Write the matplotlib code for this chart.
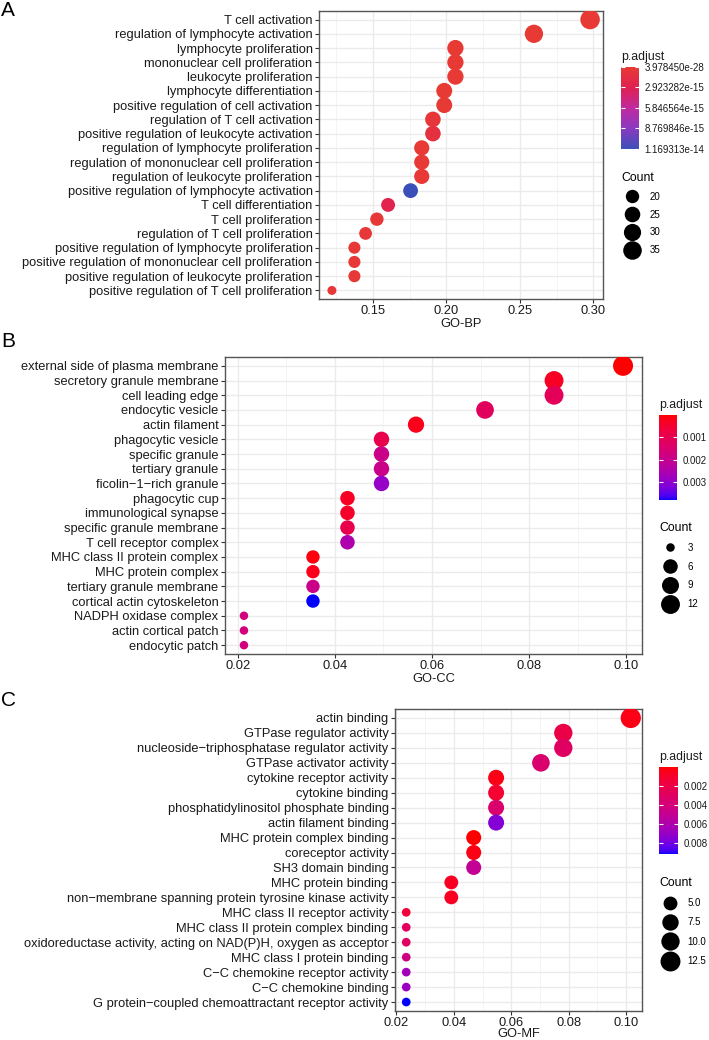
import numpy as np
import matplotlib
matplotlib.use("Agg")
import matplotlib.pyplot as plt
from matplotlib.colors import ListedColormap, LinearSegmentedColormap, Normalize, to_rgb
from matplotlib.cm import ScalarMappable
from matplotlib.lines import Line2D
from matplotlib.ticker import MultipleLocator, AutoMinorLocator, FormatStrFormatter

plt.rcParams['font.family'] = ['Liberation Sans', 'DejaVu Sans']

# ---------------- data ----------------
bp_terms = [
    "T cell activation", "regulation of lymphocyte activation", "lymphocyte proliferation",
    "mononuclear cell proliferation", "leukocyte proliferation", "lymphocyte differentiation",
    "positive regulation of cell activation", "regulation of T cell activation",
    "positive regulation of leukocyte activation", "regulation of lymphocyte proliferation",
    "regulation of mononuclear cell proliferation", "regulation of leukocyte proliferation",
    "positive regulation of lymphocyte activation", "T cell differentiation", "T cell proliferation",
    "regulation of T cell proliferation", "positive regulation of lymphocyte proliferation",
    "positive regulation of mononuclear cell proliferation",
    "positive regulation of leukocyte proliferation", "positive regulation of T cell proliferation",
]
bp_ratio = [0.2977, 0.2595, 0.2061, 0.2061, 0.2061, 0.1985, 0.1985, 0.1908, 0.1908, 0.1832,
            0.1832, 0.1832, 0.1756, 0.1603, 0.1527, 0.1450, 0.1374, 0.1374, 0.1374, 0.1221]
bp_count = [39, 34, 27, 27, 27, 26, 26, 25, 25, 24, 24, 24, 23, 21, 20, 19, 18, 18, 18, 16]
bp_padj = [3.978450e-28, 1e-22, 5e-19, 6e-19, 8e-19, 2e-17, 3e-17, 5e-16, 1.1e-15, 1e-16,
           1.2e-16, 1.5e-16, 1.169313e-14, 2.6e-15, 3e-16, 3.5e-16, 2e-16, 2.5e-16, 3e-16, 2e-16]
bp_cbar_ticks = [3.978450e-28, 2.923282e-15, 5.846564e-15, 8.769846e-15, 1.169313e-14]
bp_count_breaks = [20, 25, 30, 35]

cc_terms = [
    "external side of plasma membrane", "secretory granule membrane", "cell leading edge",
    "endocytic vesicle", "actin filament", "phagocytic vesicle", "specific granule",
    "tertiary granule", "ficolin\u22121\u2212rich granule", "phagocytic cup",
    "immunological synapse", "specific granule membrane", "T cell receptor complex",
    "MHC class II protein complex", "MHC protein complex", "tertiary granule membrane",
    "cortical actin cytoskeleton", "NADPH oxidase complex", "actin cortical patch",
    "endocytic patch",
]
cc_ratio = [0.0993, 0.0851, 0.0851, 0.0709, 0.0567, 0.0496, 0.0496, 0.0496, 0.0496, 0.0426,
            0.0426, 0.0426, 0.0426, 0.0355, 0.0355, 0.0355, 0.0355, 0.0213, 0.0213, 0.0213]
cc_count = [14, 12, 12, 10, 8, 7, 7, 7, 7, 6, 6, 6, 6, 5, 5, 5, 5, 3, 3, 3]
cc_padj = [0.000002, 0.0003, 0.0011, 0.0012, 0.0002, 0.0009, 0.0019, 0.0019, 0.0029, 0.0003,
           0.0004, 0.0009, 0.0025, 0.0001, 0.0002, 0.0019, 0.0038, 0.0017, 0.0017, 0.0017]
cc_cbar_ticks = [0.001, 0.002, 0.003]
cc_count_breaks = [3, 6, 9, 12]

mf_terms = [
    "actin binding", "GTPase regulator activity", "nucleoside\u2212triphosphatase regulator activity",
    "GTPase activator activity", "cytokine receptor activity", "cytokine binding",
    "phosphatidylinositol phosphate binding", "actin filament binding",
    "MHC protein complex binding", "coreceptor activity", "SH3 domain binding",
    "MHC protein binding", "non\u2212membrane spanning protein tyrosine kinase activity",
    "MHC class II receptor activity", "MHC class II protein complex binding",
    "oxidoreductase activity, acting on NAD(P)H, oxygen as acceptor",
    "MHC class I protein binding", "C\u2212C chemokine receptor activity",
    "C\u2212C chemokine binding", "G protein\u2212coupled chemoattractant receptor activity",
]
mf_ratio = [0.1016, 0.0781, 0.0781, 0.0703, 0.0547, 0.0547, 0.0547, 0.0547, 0.0469, 0.0469,
            0.0469, 0.0391, 0.0391, 0.0234, 0.0234, 0.0234, 0.0234, 0.0234, 0.0234, 0.0234]
mf_count = [13, 10, 10, 9, 7, 7, 7, 7, 6, 6, 6, 5, 5, 3, 3, 3, 3, 3, 3, 3]
mf_padj = [0.0004, 0.0020, 0.0030, 0.0035, 0.0004, 0.0012, 0.0035, 0.0075, 0.00002, 0.0004,
           0.0050, 0.0007, 0.0007, 0.0015, 0.0028, 0.0030, 0.0042, 0.0065, 0.0068, 0.0091]
mf_cbar_ticks = [0.002, 0.004, 0.006, 0.008]
mf_count_breaks = [5.0, 7.5, 10.0, 12.5]

# ---------------- helpers ----------------
W, H = 709, 1040
fig = plt.figure(figsize=(W / 100, H / 100), dpi=100)


def rect(l, t, r, b):
    return [l / W, 1 - b / H, (r - l) / W, (b - t) / H]


M = np.array([[0.4124564, 0.3575761, 0.1804375],
              [0.2126729, 0.7151522, 0.0721750],
              [0.0193339, 0.1191920, 0.9503041]])
Minv = np.linalg.inv(M)
WHITE = np.array([0.95047, 1.0, 1.08883])


def _lin(c):
    c = np.asarray(c, float)
    return np.where(c <= 0.04045, c / 12.92, ((c + 0.055) / 1.055) ** 2.4)


def _gam(c):
    c = np.clip(c, 0, None)
    return np.where(c <= 0.0031308, 12.92 * c, 1.055 * np.power(c, 1 / 2.4) - 0.055)


def _f(t):
    d = 6 / 29
    return np.where(t > d ** 3, np.cbrt(t), t / (3 * d * d) + 4 / 29)


def _finv(t):
    d = 6 / 29
    return np.where(t > d, t ** 3, 3 * d * d * (t - 4 / 29))


def rgb2lab(rgb):
    xyz = M @ _lin(rgb)
    fx, fy, fz = _f(xyz / WHITE)
    return np.array([116 * fy - 16, 500 * (fx - fy), 200 * (fy - fz)])


def lab2rgb(lab):
    L, a, b = lab
    fy = (L + 16) / 116
    fx = fy + a / 500
    fz = fy - b / 200
    xyz = WHITE * _finv(np.array([fx, fy, fz]))
    return np.clip(_gam(Minv @ xyz), 0, 1)


def lab_cmap(lo, hi, n=256):
    l0, l1 = rgb2lab(to_rgb(lo)), rgb2lab(to_rgb(hi))
    return ListedColormap([lab2rgb(l0 + (l1 - l0) * t) for t in np.linspace(0, 1, n)])


PX2PT = 72 / 100


def size_fn(counts, a, b):
    cmin, cmax = min(counts), max(counts)
    def d(c):
        r = np.clip((np.asarray(c, float) - cmin) / (cmax - cmin), 0, 1)
        return a + b * np.sqrt(r)
    return d


def panel(terms, ratio, counts, padj, xlabel, major, cmap, sa, sb,
          ax_box, cbar_box, cbar_ticks, cbar_labels, count_breaks, count_labels,
          title_pos, count_pos, letter, letter_y, lblspace, xlpad):
    ax = fig.add_axes(rect(*ax_box))
    dfun = size_fn(counts, sa, sb)
    norm = Normalize(vmin=min(padj), vmax=max(padj))
    sizes = (dfun(counts) * PX2PT) ** 2
    ax.set_axisbelow(True)
    ax.scatter(ratio, terms, s=sizes, c=padj, cmap=cmap, norm=norm, linewidths=0, zorder=3)
    n = len(terms)
    ax.set_ylim(n - 1 + 0.6, -0.6)
    rng = max(ratio) - min(ratio)
    ax.set_xlim(min(ratio) - 0.05 * rng, max(ratio) + 0.05 * rng)
    ax.xaxis.set_major_locator(MultipleLocator(major))
    ax.xaxis.set_minor_locator(AutoMinorLocator(2))
    ax.xaxis.set_major_formatter(FormatStrFormatter('%.2f'))
    ax.grid(True, which='major', axis='both', color='#EBEBEB', lw=1.0, zorder=0)
    ax.grid(True, which='minor', axis='x', color='#F2F2F2', lw=0.6, zorder=0)
    ax.tick_params(axis='both', which='major', length=2.6, width=0.8, color='#333333',
                   labelsize=9.3, labelcolor='#1A1A1A', pad=2.0)
    ax.tick_params(axis='both', which='minor', length=0)
    for sp in ax.spines.values():
        sp.set_color('#555555')
        sp.set_linewidth(1.0)
    ax.set_xlabel(xlabel, fontsize=9.3, color='#1A1A1A', labelpad=xlpad)

    # colour bar
    cax = fig.add_axes(rect(*cbar_box))
    cb = fig.colorbar(ScalarMappable(norm=norm, cmap=cmap), cax=cax)
    cb.outline.set_visible(False)
    cax.invert_yaxis()
    cax.set_yticks(cbar_ticks)
    cax.set_yticklabels(cbar_labels)
    cax.yaxis.set_ticks_position('both')
    cax.tick_params(axis='y', direction='in', color='white', length=3, width=0.8,
                    labelsize=7, labelcolor='#1A1A1A', pad=4, labelright=True, labelleft=False)
    fig.text(title_pos[0] / W, 1 - title_pos[1] / H, 'p.adjust', fontsize=8.8,
             ha='left', va='center', color='#1A1A1A')

    # count legend
    handles = [Line2D([], [], marker='o', linestyle='', color='black',
                      markersize=float(dfun(c)) * PX2PT, markeredgewidth=0)
               for c in count_breaks]
    fig.legend(handles, count_labels, title='Count', loc='upper left',
               bbox_to_anchor=(count_pos[0] / W, 1 - count_pos[1] / H),
               frameon=False, fontsize=7, title_fontsize=8.8, alignment='left',
               handlelength=2.2, handletextpad=0.75, labelspacing=lblspace,
               borderpad=0, borderaxespad=0)
    fig.text(1 / W, 1 - letter_y / H, letter, fontsize=15, ha='left', va='center',
             color='black')
    return ax


cm_a = LinearSegmentedColormap.from_list(
    'bp', ['#E83A35', '#E02050', '#C02AA0', '#8A3AC0', '#3A50B8'])
cm_bc = lab_cmap('#FF0000', '#0000FF')

panel(bp_terms, bp_ratio, bp_count, bp_padj, 'GO-BP', 0.05, cm_a, 9.0, 10.5,
      (319, 11, 603, 299), (621, 67, 639, 149), bp_cbar_ticks,
      ['%.6e' % v for v in bp_cbar_ticks], bp_count_breaks, [str(v) for v in bp_count_breaks],
      (621, 57), (621, 172), 'A', 10, 0.8, 0.6)

panel(cc_terms, cc_ratio, cc_count, cc_padj, 'GO-CC', 0.02, cm_bc, 8.5, 11.5,
      (225, 357, 642, 654), (659, 415, 677, 500), cc_cbar_ticks,
      ['%.3f' % v for v in cc_cbar_ticks], cc_count_breaks, [str(v) for v in cc_count_breaks],
      (659, 405), (659, 522), 'B', 342, 0.9, 0.6)

panel(mf_terms, mf_ratio, mf_count, mf_padj, 'GO-MF', 0.02, cm_bc, 8.7, 11.5,
      (395, 709, 642, 1011), (659, 767, 678, 854), mf_cbar_ticks,
      ['%.3f' % v for v in mf_cbar_ticks], mf_count_breaks, ['%.1f' % v for v in mf_count_breaks],
      (659, 757), (659, 877), 'C', 701, 0.95, -1.0)

fig.savefig('out.png', dpi=100, facecolor='white')
